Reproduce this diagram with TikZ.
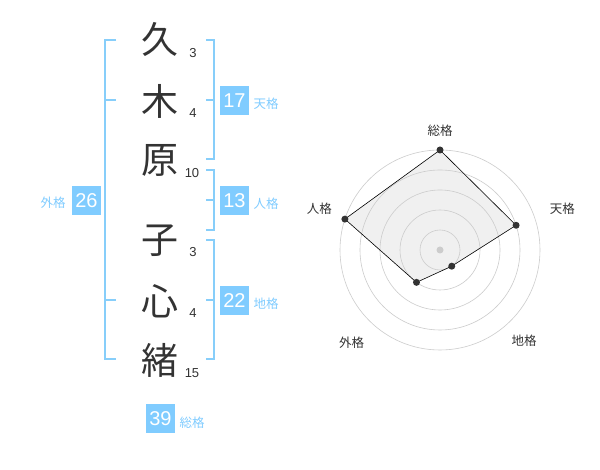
\documentclass[tikz,border=0pt]{standalone}
\usepackage{fontspec}
\usetikzlibrary{calc}
\setmainfont{Liberation Sans}
\newfontfamily\jp{Noto Sans CJK JP}
\definecolor{bluebox}{RGB}{128,204,255}
\definecolor{blueline}{RGB}{135,206,250}
\definecolor{ink}{RGB}{51,51,51}
\definecolor{ringgray}{RGB}{204,204,204}
\definecolor{fillgray}{RGB}{240,240,240}
\tikzset{
  bigchar/.style={font=\jp\fontsize{37}{37}\selectfont, text=ink, inner sep=0pt},
  strokenum/.style={font=\fontsize{13}{13}\selectfont, text=ink, inner sep=0pt},
  numbox/.style={fill=bluebox, text=white, minimum width=29pt, minimum height=29pt, inner sep=0pt, font=\fontsize{20}{20}\selectfont},
  kaku/.style={font=\jp\fontsize{12.5}{12.5}\selectfont, text=bluebox, inner sep=0pt},
  bracket/.style={draw=blueline, line width=2pt},
  ring/.style={draw=ringgray, line width=0.6pt},
  radarlabel/.style={font=\jp\fontsize{12.5}{12.5}\selectfont, text=ink, inner sep=0pt},
  dot/.style={circle, fill=ink, minimum size=7pt, inner sep=0pt},
}
\begin{document}
\begin{tikzpicture}[x=1pt,y=1pt]
\useasboundingbox (0,0) rectangle (600,470);
\fill[white] (0,0) rectangle (600,470);
% characters
\node[bigchar] (c1) at (160,430) {久};
\node[bigchar] (c2) at (160,369) {木};
\node[bigchar] (c3) at (160,310) {原};
\node[bigchar] (c4) at (160,229) {子};
\node[bigchar] (c5) at (160,169) {心};
\node[bigchar] (c6) at (160,110) {緒};
\node[strokenum] (n1) at (193,417) {3};
\node[strokenum] (n2) at (193,357) {4};
\node[strokenum] (n3) at (192,297) {10};
\node[strokenum] (n4) at (193,218) {3};
\node[strokenum] (n5) at (193,157) {4};
\node[strokenum] (n6) at (192,97) {15};
% brackets
\draw[bracket] (116,430) -- (105,430) -- (105,111) -- (116,111);
\draw[bracket] (105,370) -- (116,370);
\draw[bracket] (105,170) -- (116,170);
\draw[bracket] (206,430) -- (214,430) -- (214,311) -- (206,311);
\draw[bracket] (214,370) -- (206,370);
\draw[bracket] (206,300) -- (214,300) -- (214,240) -- (206,240);
\draw[bracket] (214,270) -- (206,270);
\draw[bracket] (206,230) -- (214,230) -- (214,111) -- (206,111);
\draw[bracket] (214,170) -- (206,170);
% boxes
\node[numbox] (b17) at (234.5,369.5) {17};
\node[numbox] (b13) at (234.5,269.5) {13};
\node[numbox] (b22) at (234.5,169.5) {22};
\node[numbox] (b26) at (86.5,269.5) {26};
\node[numbox] (b39) at (160.5,51) {39};
\node[kaku] (l17) at (266,366) {天格};
\node[kaku] (l13) at (266,266) {人格};
\node[kaku] (l22) at (266,166) {地格};
\node[kaku] (l26) at (53,267) {外格};
\node[kaku] (l39) at (192,47) {総格};
% radar
\coordinate (c) at (440,220);
\coordinate (pS) at ($(c)+(90:100)$);
\coordinate (pT) at ($(c)+(18:80)$);
\coordinate (pC) at ($(c)+(-54:20)$);
\coordinate (pG) at ($(c)+(-126:40)$);
\coordinate (pJ) at ($(c)+(162:100)$);
\fill[fillgray] (pS) -- (pT) -- (pC) -- (pG) -- (pJ) -- cycle;
\foreach \r in {20,40,60,80,100} \draw[ring] (c) circle (\r);
\fill[ringgray] (c) circle (3.5);
\draw[black, line width=0.6pt] (pS) -- (pT) -- (pC) -- (pG) -- (pJ) -- cycle;
\foreach \p in {pS,pT,pC,pG,pJ} \node[dot] at (\p) {};
\node[radarlabel] (rS) at (440,339.3) {総格};
\node[radarlabel] (rT) at (562.3,261.3) {天格};
\node[radarlabel] (rC) at (524,129) {地格};
\node[radarlabel] (rG) at (351.7,127.7) {外格};
\node[radarlabel] (rJ) at (319.3,261.3) {人格};
\end{tikzpicture}
\end{document}
